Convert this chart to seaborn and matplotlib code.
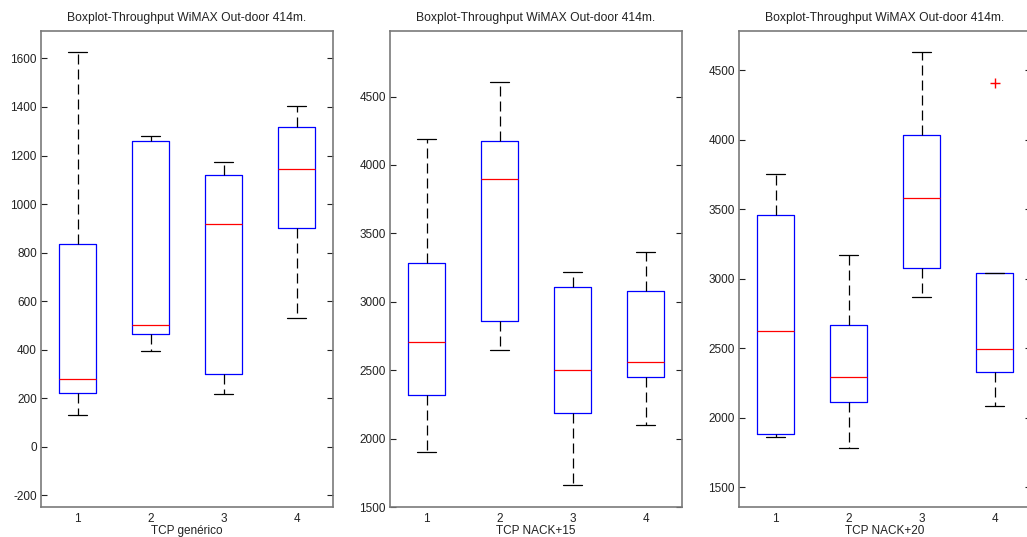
import numpy as np
import pandas as pd
import matplotlib
matplotlib.use("Agg")
import matplotlib.pyplot as plt
import seaborn as sns

# ---------------- data (five-number summaries) ----------------
groups = ["1", "2", "3", "4"]
title_text = "Boxplot-Throughput WiMAX Out-door 414m."
xlabels = ["TCP genérico", "TCP NACK+15", "TCP NACK+20"]

# Panel 1: TCP genérico
p1_low = [132, 396, 217, 531]
p1_q1 = [220, 465, 299, 903]
p1_med = [279, 501, 917, 1144]
p1_q3 = [837, 1259, 1120, 1318]
p1_high = [1625, 1282, 1172, 1404]

# Panel 2: TCP NACK+15
p2_low = [1901, 2648, 1658, 2096]
p2_q1 = [2317, 2863, 2189, 2450]
p2_med = [2708, 3899, 2503, 2563]
p2_q3 = [3282, 4177, 3109, 3076]
p2_high = [4189, 4603, 3217, 3362]

# Panel 3: TCP NACK+20
p3_low = [1860, 1784, 2872, 2085]
p3_q1 = [1885, 2117, 3081, 2329]
p3_med = [2623, 2294, 3582, 2497]
p3_q3 = [3461, 2670, 4034, 3042]
p3_high = [3752, 3170, 4631, 3042]

# outliers: (group, value)
p3_out_group = ["4"]
p3_out_value = [4409]

p1_ticks = [-200, 0, 200, 400, 600, 800, 1000, 1200, 1400, 1600]
p2_ticks = [1500, 2000, 2500, 3000, 3500, 4000, 4500]
p3_ticks = [1500, 2000, 2500, 3000, 3500, 4000, 4500]


def make_df(low, q1, med, q3, high):
    rows = []
    for g, a, b, c, d, e in zip(groups, low, q1, med, q3, high):
        for v in (a, b, c, d, e):
            rows.append({"grupo": g, "valor": v})
    return pd.DataFrame(rows)


panels = [
    dict(df=make_df(p1_low, p1_q1, p1_med, p1_q3, p1_high), ticks=p1_ticks,
         ylim=(-248, 1713), out=None),
    dict(df=make_df(p2_low, p2_q1, p2_med, p2_q3, p2_high), ticks=p2_ticks,
         ylim=(1500, 4979), out=None),
    dict(df=make_df(p3_low, p3_q1, p3_med, p3_q3, p3_high), ticks=p3_ticks,
         ylim=(1359, 4784),
         out=pd.DataFrame({"grupo": p3_out_group, "valor": p3_out_value})),
]

# ---------------- figure ----------------
sns.set_theme(style="white")
plt.rcParams["font.family"] = ["Liberation Sans", "DejaVu Sans"]

W, H = 1027, 537
fig = plt.figure(figsize=(W / 100, H / 100), dpi=100)
fig.patch.set_facecolor("white")

lefts = [41, 390, 739]
ax_w, ax_top, ax_bot = 292, 31, 507

for i, p in enumerate(panels):
    ax = fig.add_axes([lefts[i] / W, (H - ax_bot) / H, ax_w / W, (ax_bot - ax_top) / H])
    ax.set_facecolor("white")
    sns.boxplot(data=p["df"], x="grupo", y="valor", order=groups, ax=ax,
                fill=False, width=0.5, linecolor="blue", linewidth=0.9,
                showfliers=False, whis=1.5,
                boxprops={"color": "blue"},
                medianprops={"color": "red"},
                whiskerprops={"color": "black", "linestyle": (0, (8, 4))},
                capprops={"color": "black"})
    if p["out"] is not None:
        sns.scatterplot(data=p["out"], x="grupo", y="valor", ax=ax, marker="+",
                        color="red", s=45, linewidth=1.0, legend=False)
    ax.set_xlim(-0.5, 3.5)
    ax.set_ylim(*p["ylim"])
    ax.set_yticks(p["ticks"])
    ax.set_yticklabels([str(t) for t in p["ticks"]])
    ax.set_xticks(range(len(groups)))
    ax.set_xticklabels(groups)
    ax.tick_params(axis="y", direction="in", length=4, width=0.8, left=True,
                   right=True, labelsize=8.5, pad=3, colors="#222222")
    ax.tick_params(axis="x", length=0, labelsize=8.5, pad=4, colors="#222222")
    for s in ax.spines.values():
        s.set_visible(True)
        s.set_color("#7a7a7a")
        s.set_linewidth(1.2)
    ax.set_title(title_text, fontsize=8.7, pad=7, color="#222222")
    ax.set_xlabel(xlabels[i], fontsize=8.5, labelpad=0, color="#222222")
    ax.set_ylabel("")

fig.savefig("out.png", dpi=100, facecolor="white")
